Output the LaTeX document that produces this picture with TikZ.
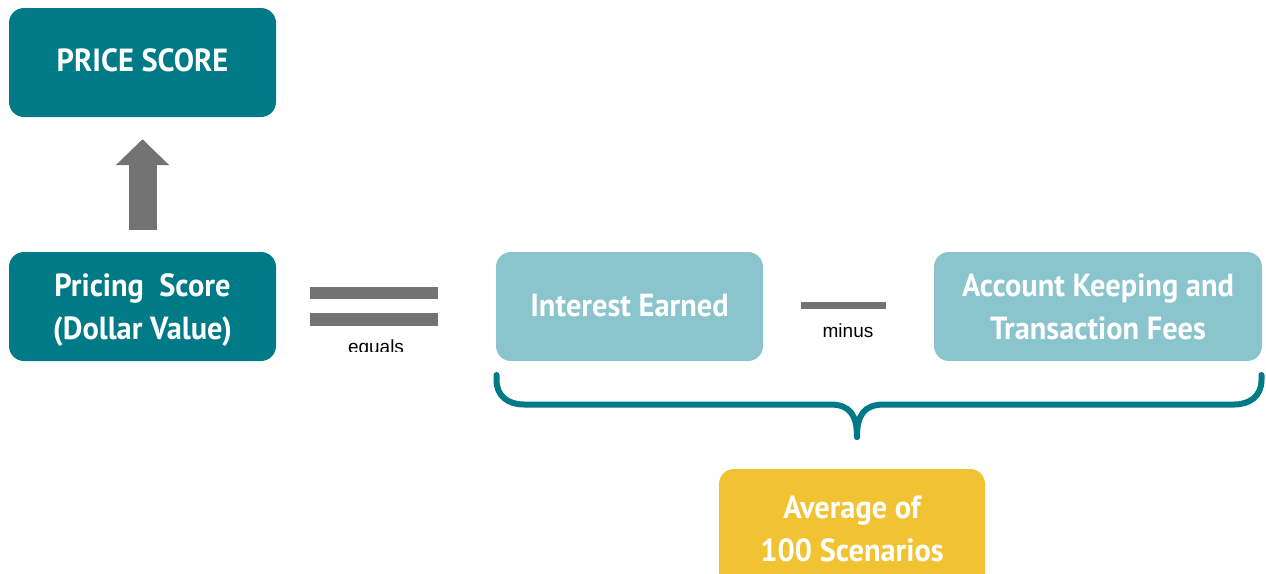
\documentclass[tikz,border=0pt]{standalone}
\usepackage{fontspec}
\setmainfont{Liberation Sans}
\newfontfamily\cond[FakeStretch=0.95]{PT Sans}
\usetikzlibrary{arrows.meta}
\definecolor{teal1}{HTML}{007A87}
\definecolor{teal2}{HTML}{8AC4CC}
\definecolor{gold1}{HTML}{F1C232}
\definecolor{gray1}{HTML}{737373}
\tikzset{
  box/.style={rounded corners=15pt, inner sep=0pt, align=center, text=white,
    font=\cond\bfseries\fontsize{32}{43}\selectfont},
  darkbox/.style={box, fill=teal1},
  lightbox/.style={box, fill=teal2},
  goldbox/.style={box, fill=gold1},
  bar/.style={fill=gray1},
  small/.style={font=\fontsize{19}{22}\selectfont, text=black, inner sep=0pt},
  brace/.style={draw=teal1, line width=6pt, line cap=round}
}
\begin{document}
\begin{tikzpicture}[x=1pt,y=-1pt]
\useasboundingbox (0,0) rectangle (1266,573);
\clip (0,0) rectangle (1266,573);
\node[darkbox, minimum width=267pt, minimum height=109pt] (price) at (142.5,62.5) {\raisebox{4pt}{PRICE SCORE}};
\node[darkbox, minimum width=267pt, minimum height=109pt] (pricing) at (142.5,306.5) {Pricing\ \ Score\\\smash{(Dollar Value)}};
\node[lightbox, minimum width=267pt, minimum height=109pt] (interest) at (629.5,306.5) {\raisebox{3pt}{Interest Earned}};
\node[lightbox, minimum width=328pt, minimum height=109pt] (account) at (1098,306.5) {Account Keeping and\\\smash{Transaction Fees}};
\node[goldbox, minimum width=266pt, minimum height=120pt] (avg) at (852,529) {Average of\\100 Scenarios};
\draw[draw=gray1, line width=28pt, shorten <=22pt, shorten >=22pt, -{Triangle[width=52pt,length=26pt]}] (pricing.north) -- (price.south);
\fill[bar] (310,287) rectangle (438,299);
\fill[bar] (310,313) rectangle (438,326);
\begin{scope}
\clip (300,330) rectangle (460,351);
\node[small] (equals) at (376,349) {equals};
\end{scope}
\fill[bar] (801,302) rectangle (886,309);
\node[small] (minus) at (848,331) {minus};
\coordinate (bl) at (496.5,375);
\coordinate (br) at (1261.5,375);
\coordinate (tip) at (857,437);
\draw[brace] (bl) -- (496.5,380) .. controls (496.5,396) and (508,404.5) .. (524,404.5)
  -- (830,404.5) .. controls (850,404.5) and (857,415) .. (tip);
\draw[brace] (br) -- (1261.5,380) .. controls (1261.5,396) and (1250,404.5) .. (1234,404.5)
  -- (884,404.5) .. controls (864,404.5) and (857,415) .. (tip);
\end{tikzpicture}
\end{document}
